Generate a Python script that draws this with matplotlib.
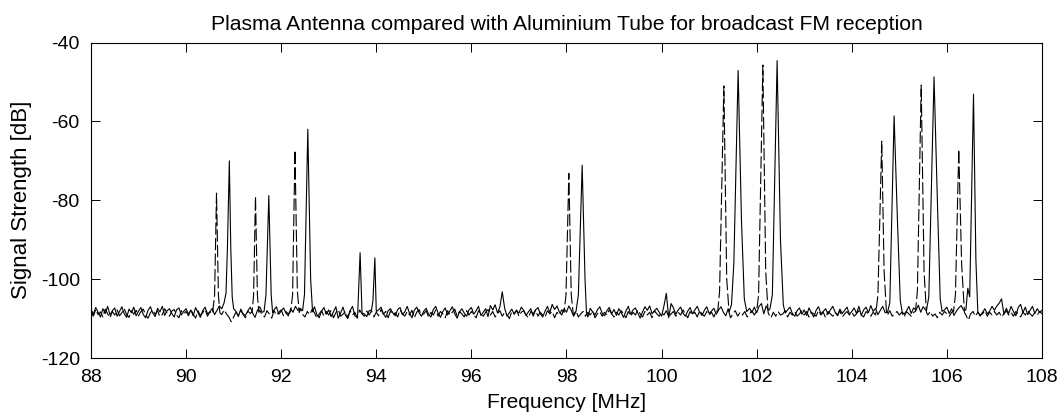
# Plasma antenna vs aluminium tube, FM band sweep
import numpy as np
import matplotlib
matplotlib.use('Agg')
import matplotlib.pyplot as plt

plt.rcParams['font.family'] = ['Liberation Sans', 'DejaVu Sans']
plt.rcParams['axes.unicode_minus'] = False

# frequency grid of the sweep [MHz]
freq_start = 88.0
freq_stop = 108.0
n_points = 401

# plasma antenna (solid) - background level, one row per MHz
solid_floor = [
    -107.6, -108.9, -107.2, -108.4, -109.6, -107.5, -108.7, -106.9, -109.1, -108.0, -107.3, -109.4, -108.2, -107.0, -108.8, -109.7, -107.6, -108.5, -107.1, -109.3,
    -108.1, -107.2, -109.0, -109.8, -107.9, -107.0, -108.6, -109.5, -107.4, -108.3, -106.9, -109.2, -108.0, -107.5, -108.7, -109.6, -107.8, -107.3, -109.1, -108.2,
    -107.5, -108.9, -107.8, -109.3, -107.2, -108.5, -109.7, -108.0, -107.1, -108.8, -108.3, -107.4, -109.0, -107.9, -106.8, -107.6, -106.6, -107.3, -106.5, -107.0,
    -107.4, -108.2, -109.5, -107.6, -108.8, -109.2, -108.0, -107.1, -108.6, -109.7, -107.9, -107.0, -108.4, -109.1, -109.4, -107.5, -108.7, -107.8, -107.0, -108.9,
    -108.1, -107.3, -108.6, -109.3, -107.5, -108.4, -106.9, -107.9, -107.4, -106.8, -108.7, -109.6, -108.9, -107.7, -107.0, -109.0, -109.8, -108.1, -107.2, -108.9,
    -107.8, -109.5, -108.3, -107.0, -109.9, -108.6, -107.1, -109.1, -110.0, -108.0, -106.9, -109.3, -109.7, -107.8, -107.4, -108.8, -109.5, -108.0, -107.2, -108.6,
    -109.1, -107.8, -107.1, -108.8, -109.7, -108.0, -107.5, -108.6, -109.3, -107.7, -107.2, -109.0, -108.3, -106.9, -108.7, -109.8, -107.9, -107.1, -108.5, -109.4,
    -108.1, -107.4, -108.9, -109.6, -107.7, -106.9, -108.6, -109.7, -108.2, -107.3, -109.1, -108.0, -107.0, -108.8, -109.9, -108.3, -107.5, -108.6, -109.4, -107.8,
    -107.2, -108.9, -108.0, -106.9, -109.2, -108.4, -107.5, -109.5, -106.7, -107.8, -106.5, -108.6, -107.0, -103.2, -107.4, -109.4, -108.5, -107.6, -108.9, -108.0,
    -108.6, -107.1, -107.9, -109.2, -108.3, -107.5, -109.4, -107.8, -107.2, -108.8, -109.6, -108.1, -106.9, -108.5, -106.4, -107.7, -106.8, -108.3, -109.1, -107.5,
    -108.4, -106.8, -107.9, -109.4, -108.1, -107.3, -108.7, -107.8, -108.9, -109.6, -107.4, -108.3, -109.1, -107.8, -107.0, -108.6, -109.3, -108.0, -107.2, -108.8,
    -107.7, -109.2, -107.5, -108.4, -109.7, -108.1, -106.9, -108.9, -107.8, -107.3, -108.6, -109.9, -108.3, -107.0, -107.9, -106.8, -108.8, -108.0, -107.4, -108.4,
    -109.4, -106.8, -103.6, -109.8, -106.2, -107.3, -108.9, -107.8, -107.1, -108.6, -109.4, -108.1, -107.2, -108.8, -107.8, -106.9, -108.4, -109.2, -107.9, -107.0,
    -108.7, -108.1, -107.4, -108.9, -107.8, -107.0, -108.4, -109.3, -107.5, -106.9, -108.2, -107.3, -108.7, -107.9, -106.9, -108.9, -108.1, -107.4, -108.5, -107.1,
    -108.5, -106.9, -106.2, -108.8, -106.8, -107.9, -107.0, -108.5, -107.6, -108.2, -108.9, -109.9, -109.3, -107.8, -107.1, -108.7, -109.4, -108.0, -107.3, -108.9,
    -107.8, -109.2, -107.3, -108.5, -109.6, -107.9, -107.0, -108.7, -108.2, -107.5, -108.9, -107.8, -106.9, -108.4, -109.3, -107.6, -108.7, -107.9, -107.1, -108.9,
    -108.2, -107.3, -108.7, -106.9, -109.2, -107.8, -107.1, -108.5, -106.7, -108.2, -107.4, -109.0, -107.9, -106.9, -108.5, -109.3, -110.1, -108.7, -107.6, -108.9,
    -108.4, -107.6, -108.9, -108.1, -106.9, -108.7, -107.3, -107.9, -106.6, -108.4, -107.0, -107.8, -109.1, -108.4, -107.5, -108.9, -108.1, -107.2, -108.5, -107.8,
    -107.1, -108.7, -107.5, -109.2, -108.1, -107.3, -106.7, -107.9, -106.9, -108.2, -107.3, -108.6, -109.0, -107.8, -109.4, -108.4, -107.5, -108.8, -108.1, -106.9,
    -107.9, -106.8, -106.1, -105.0, -108.9, -107.4, -108.7, -106.9, -108.2, -109.3, -107.2, -106.4, -108.5, -107.1, -109.0, -107.9, -106.9, -108.7, -107.5, -108.4,
    -107.9,
]

# aluminium tube (dashed) - background level
dashed_floor = [
    -108.1, -109.4, -107.7, -109.0, -108.3, -109.6, -107.6, -108.8, -109.8, -108.2, -109.1, -107.8, -109.3, -108.5, -107.5, -109.0, -109.7, -108.0, -108.9, -107.9,
    -109.3, -108.2, -107.6, -109.1, -109.9, -108.5, -107.8, -108.9, -108.0, -109.5, -109.0, -107.5, -108.6, -109.4, -108.1, -107.7, -109.1, -109.8, -108.0, -108.8,
    -108.2, -109.3, -107.7, -108.9, -109.9, -108.0, -109.2, -108.5, -107.6, -109.4, -108.3, -108.8, -109.8, -108.4, -107.9, -109.0, -107.8, -108.8, -109.6, -110.8,
    -109.6, -108.3, -109.2, -107.9, -109.0, -109.8, -108.1, -108.7, -107.6, -109.3, -108.5, -107.9, -109.1, -109.6, -108.0, -108.8, -109.9, -108.0, -109.1, -108.4,
    -107.8, -109.3, -108.2, -108.8, -109.8, -108.0, -109.1, -108.5, -107.5, -108.9, -109.6, -108.2, -109.0, -107.7, -108.5, -109.9, -108.8, -108.0, -109.4, -108.2,
    -109.1, -107.9, -109.8, -108.5, -107.7, -109.4, -108.9, -108.2, -109.7, -108.0, -109.1, -108.4, -109.9, -107.8, -108.8, -109.4, -108.1, -109.1, -108.0, -109.6,
    -108.4, -109.3, -107.7, -108.9, -108.2, -109.8, -108.0, -109.1, -108.5, -109.6, -107.8, -108.8, -109.4, -108.2, -109.1, -107.9, -109.8, -108.4, -107.7, -109.1,
    -108.8, -108.0, -109.6, -108.4, -109.1, -107.8, -109.4, -108.2, -108.8, -109.8, -108.0, -109.1, -108.4, -107.6, -109.4, -108.2, -108.8, -109.6, -108.0, -109.1,
    -108.2, -109.1, -109.8, -108.0, -108.8, -109.4, -108.4, -107.7, -109.1, -108.2, -109.6, -108.8, -108.0, -109.4, -108.4, -109.1, -110.0, -108.2, -108.8, -107.8,
    -109.4, -108.4, -108.0, -109.1, -109.8, -108.2, -108.8, -107.8, -109.4, -108.4, -109.1, -109.6, -108.0, -108.8, -108.2, -109.8, -108.4, -109.1, -107.8, -108.8,
    -108.2, -109.4, -108.4, -109.1, -108.0, -109.6, -108.8, -108.2, -109.4, -108.4, -109.1, -108.0, -109.8, -108.8, -108.2, -109.4, -108.4, -109.1, -107.8, -108.8,
    -109.6, -108.4, -109.1, -108.0, -108.8, -109.8, -108.2, -109.4, -108.4, -109.1, -107.8, -108.8, -109.6, -108.2, -109.1, -108.4, -109.8, -108.0, -108.8, -109.4,
    -108.4, -109.1, -108.0, -109.6, -108.8, -108.2, -109.4, -108.4, -109.1, -107.8, -108.8, -109.8, -108.2, -109.1, -108.4, -109.6, -108.0, -108.8, -109.4, -108.2,
    -109.1, -108.4, -109.6, -108.0, -108.8, -109.4, -108.2, -109.1, -108.4, -109.8, -108.8, -108.0, -109.4, -108.4, -109.1, -108.2, -109.6, -108.8, -108.0, -109.1,
    -108.4, -109.4, -108.2, -109.1, -108.0, -108.8, -109.8, -108.4, -109.4, -108.2, -109.1, -108.8, -108.0, -109.6, -108.4, -109.1, -108.2, -109.4, -108.8, -108.0,
    -109.1, -108.2, -109.6, -108.4, -108.8, -109.4, -108.0, -109.1, -108.4, -109.8, -108.2, -108.8, -109.4, -108.4, -109.1, -108.0, -109.6, -108.8, -108.2, -109.1,
    -108.4, -109.4, -108.8, -108.0, -109.1, -109.6, -108.2, -108.8, -109.4, -108.4, -109.1, -108.2, -108.8, -109.6, -108.4, -109.1, -108.0, -109.4, -108.8, -108.2,
    -109.1, -108.4, -109.6, -108.2, -108.8, -109.4, -108.4, -109.1, -108.0, -108.8, -109.6, -108.4, -109.1, -108.2, -109.4, -108.8, -109.8, -108.4, -109.1, -108.2,
    -108.8, -109.4, -108.4, -109.1, -108.0, -108.8, -109.6, -108.4, -109.1, -110.4, -108.8, -108.2, -109.4, -108.4, -109.1, -108.8, -108.0, -109.4, -108.4, -109.1,
    -108.2, -109.1, -108.4, -109.6, -108.8, -108.0, -109.1, -108.4, -109.4, -108.2, -108.8, -109.6, -108.4, -109.1, -108.0, -108.8, -109.4, -108.4, -109.1, -108.2,
    -108.8,
]

# station peaks, plasma antenna: (MHz, dB) points across each carrier
solid_peaks = [
    [(90.75, -107.5), (90.80, -106.0), (90.84, -103.5), (90.87, -92.0), (90.91, -70.0), (90.94, -92.0), (90.97, -104.5), (91.00, -107.5)],
    [(91.64, -108.2), (91.68, -104.0), (91.74, -78.8), (91.79, -104.0), (91.82, -108.5)],
    [(92.45, -108.0), (92.49, -104.0), (92.56, -62.0), (92.62, -100.0), (92.66, -108.3)],
    [(93.61, -108.5), (93.66, -93.3), (93.70, -108.6)],
    [(93.90, -107.8), (93.93, -105.5), (93.97, -94.6), (94.00, -108.2)],
    [(98.20, -108.2), (98.25, -104.0), (98.33, -71.1), (98.39, -100.0), (98.42, -108.4)],
    [(101.42, -108.3), (101.47, -106.5), (101.52, -96.0), (101.61, -47.1), (101.68, -85.0), (101.74, -105.0), (101.79, -108.2)],
    [(102.28, -107.5), (102.33, -104.0), (102.43, -44.6), (102.50, -90.0), (102.56, -106.5), (102.60, -108.6)],
    [(104.75, -108.5), (104.80, -106.0), (104.89, -58.6), (104.96, -85.0), (105.02, -105.5), (105.06, -108.3)],
    [(105.57, -108.0), (105.62, -104.5), (105.73, -48.7), (105.80, -80.0), (105.86, -105.0), (105.90, -108.2)],
    [(106.40, -107.8), (106.44, -102.3), (106.48, -104.5), (106.56, -53.1), (106.61, -95.0), (106.65, -108.2)],
]

# station peaks, aluminium tube
dashed_peaks = [
    [(90.56, -108.3), (90.60, -104.0), (90.64, -78.2), (90.68, -104.0), (90.71, -108.5)],
    [(91.39, -108.3), (91.42, -104.0), (91.46, -79.0), (91.50, -104.0), (91.53, -108.4)],
    [(92.20, -108.2), (92.24, -104.0), (92.29, -67.3), (92.34, -103.0), (92.38, -108.5)],
    [(97.95, -108.4), (97.99, -104.0), (98.05, -73.2), (98.10, -104.0), (98.14, -108.5)],
    [(101.18, -108.3), (101.22, -103.0), (101.31, -51.0), (101.37, -100.0), (101.42, -108.5)],
    [(102.00, -108.1), (102.04, -104.0), (102.13, -45.7), (102.19, -98.0), (102.24, -108.4)],
    [(104.51, -108.3), (104.55, -104.0), (104.63, -65.0), (104.68, -98.0), (104.73, -108.5)],
    [(105.34, -108.2), (105.38, -103.0), (105.46, -50.8), (105.52, -98.0), (105.57, -108.4)],
    [(106.14, -108.2), (106.18, -104.0), (106.25, -67.1), (106.31, -96.0), (106.37, -108.5)],
]


def build_trace(floor, peaks):
    # put the carrier points in place of the floor samples they cover
    f = np.linspace(freq_start, freq_stop, n_points)
    level = np.array(floor)
    keep = np.ones(len(f), dtype=bool)
    pf, pl = [], []
    for pk in peaks:
        lo, hi = pk[0][0], pk[-1][0]
        keep &= ~((f >= lo) & (f <= hi))
        pf += [p[0] for p in pk]
        pl += [p[1] for p in pk]
    f_all = np.concatenate([f[keep], pf])
    l_all = np.concatenate([level[keep], pl])
    order = np.argsort(f_all)
    return f_all[order], l_all[order]


def main():
    fig = plt.figure(figsize=(10.64, 4.18), dpi=100)
    ax = fig.add_axes([0.0855, 0.1435, 0.8938, 0.7548])

    fs, ls = build_trace(solid_floor, solid_peaks)
    fd, ld = build_trace(dashed_floor, dashed_peaks)

    ax.plot(fd, ld, color='black', lw=0.8, linestyle=(0, (11, 3)))
    ax.plot(fs, ls, color='black', lw=0.8)

    ax.set_xlim(88, 108)
    ax.set_ylim(-120, -40)
    ax.set_xticks(np.arange(88, 109, 2))
    ax.set_yticks(np.arange(-120, -39, 20))

    ax.tick_params(axis='both', direction='in', length=6.5, width=0.7,
                   top=True, right=True, labelsize=14, pad=8)
    for s in ax.spines.values():
        s.set_linewidth(0.8)

    ax.set_title('Plasma Antenna compared with Aluminium Tube for broadcast FM reception',
                 fontsize=15.2, pad=9)
    ax.set_xlabel('Frequency [MHz]', fontsize=15, labelpad=5)
    ax.set_ylabel('Signal Strength [dB]', fontsize=16, labelpad=6)

    fig.savefig('out.png', dpi=100)


if __name__ == '__main__':
    main()
